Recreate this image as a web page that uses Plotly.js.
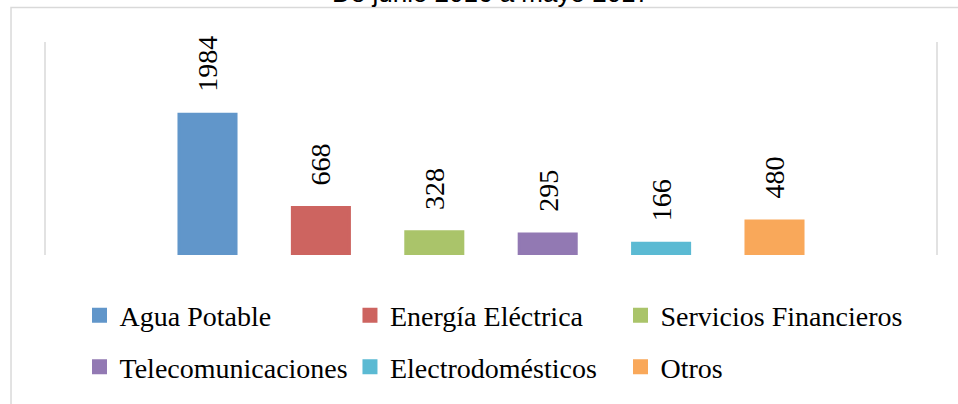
<!DOCTYPE html>
<html>
<head>
<meta charset="utf-8">
<script src="https://cdn.plot.ly/plotly-3.0.1.min.js"></script>
<style>html,body{margin:0;padding:0;background:#fff;}#chart{width:958px;height:404px;}</style>
</head>
<body>
<div id="chart"></div>
<script>
const chartTitle = 'De junio 2016 a mayo 2017';
const categories = ['Agua Potable', 'Energía Eléctrica', 'Servicios Financieros', 'Telecomunicaciones', 'Electrodomésticos', 'Otros'];
const values = [1984, 668, 328, 295, 166, 480];
const colors = ['#6196CA', '#CD6460', '#AAC46A', '#9279B3', '#5BBAD3', '#F9A85A'];

const legendIds = ['legend', 'legend2', 'legend3', 'legend4', 'legend5', 'legend6'];
const legendCols = [0.0387, 0.3419, 0.6452];
const legendRows = [-0.284, -0.526];

const traces = categories.map((c, i) => ({
  type: 'bar',
  x: [c],
  y: [values[i]],
  name: c,
  width: [0.503],
  marker: {color: colors[i], line: {color: colors[i], width: 3}},
  legend: legendIds[i],
  hoverinfo: 'none'
}));

const annotations = categories.map((c, i) => ({
  x: c, y: values[i], xref: 'x', yref: 'y',
  text: String(values[i]),
  textangle: -90,
  showarrow: false,
  xanchor: 'center', yanchor: 'bottom',
  yshift: 20,
  font: {family: 'Liberation Serif', size: 28, color: '#000'}
}));

annotations.push({
  text: chartTitle, xref: 'paper', yref: 'paper', x: 0.5, y: 1,
  xanchor: 'center', yanchor: 'middle', yshift: 49, showarrow: false,
  font: {family: 'Liberation Sans', size: 26, color: '#000'}
});

const layout = {
  width: 958, height: 404,
  margin: {l: 45, r: 21, t: 42, b: 149, autoexpand: false},
  paper_bgcolor: '#fff', plot_bgcolor: '#fff',
  barmode: 'overlay',
  showlegend: true,
  xaxis: {type: 'category', range: [-1.433, 6.433], showticklabels: false, showgrid: false, zeroline: false, showline: false, ticks: '', fixedrange: true},
  yaxis: {range: [0, 3000], visible: false, showgrid: false, zeroline: false, fixedrange: true},
  annotations: annotations,
  shapes: [
    {type: 'rect', xref: 'paper', yref: 'paper', x0: -0.0381, x1: 1.1, y0: -1, y1: 1.162, line: {color: '#d9d9d9', width: 1.5}, fillcolor: 'rgba(0,0,0,0)', layer: 'below'},
    {type: 'line', xref: 'paper', yref: 'paper', x0: 0, x1: 0, y0: 0, y1: 1, line: {color: '#d9d9d9', width: 1.5}, layer: 'below'},
    {type: 'line', xref: 'paper', yref: 'paper', x0: 1, x1: 1, y0: 0, y1: 1, line: {color: '#d9d9d9', width: 1.5}, layer: 'below'}
  ]
};

legendIds.forEach((id, i) => {
  layout[id] = {
    orientation: 'h',
    font: {family: 'Liberation Serif', size: 28, color: '#000'},
    bgcolor: 'rgba(0,0,0,0)',
    xanchor: 'left',
    yanchor: 'middle',
    x: legendCols[i % 3],
    y: legendRows[Math.floor(i / 3)],
    itemclick: false,
    itemdoubleclick: false
  };
});

Plotly.newPlot('chart', traces, layout, {displayModeBar: false, staticPlot: true});
</script>
</body>
</html>
